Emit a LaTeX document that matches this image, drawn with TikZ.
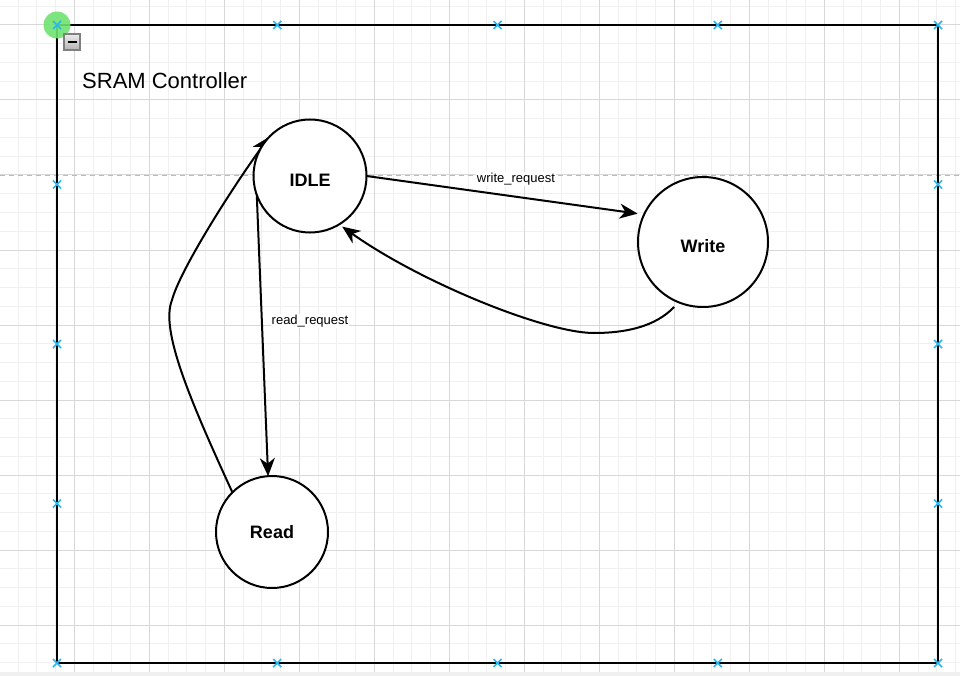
\documentclass[tikz,border=0pt]{standalone}
\usepackage{fontspec}
\setmainfont{Liberation Sans}
\usetikzlibrary{arrows.meta}
\pgfdeclarelayer{bg}
\pgfdeclarelayer{edges}
\pgfsetlayers{bg,edges,main}
\definecolor{handleblue}{HTML}{29B6F2}
\definecolor{gridminor}{HTML}{F0F0F0}
\definecolor{gridmajor}{HTML}{D8D8D8}
\definecolor{selgreen}{HTML}{6FE36F}
\definecolor{guidegray}{HTML}{BBBBBB}
\begin{document}
\begin{tikzpicture}[x=1pt,y=-1pt,
  fsmstate/.style={circle,draw=black,line width=2pt,fill=white,minimum size=#1,inner sep=0pt,outer sep=0pt,
    font=\fontsize{18}{20}\selectfont\bfseries,text depth=0pt},
  fsmedge/.style={line width=2pt,-{Stealth[length=18pt,width=15pt,inset=5.5pt]}},
  elabel/.style={font=\fontsize{13}{15}\selectfont,fill=white,inner sep=1pt,anchor=base},
  handle/.style={handleblue,line width=1.6pt},
]
\useasboundingbox (0,0) rectangle (960,676);
\begin{pgfonlayer}{bg}
  \fill[white] (0,0) rectangle (960,676);
  % minor grid
  \foreach \k in {0,...,51} {\draw[gridminor,line width=1pt] ({-0.7+18.75*\k},0) -- ({-0.7+18.75*\k},672);}
  \foreach \k in {0,...,35} {\draw[gridminor,line width=1pt] (0,{6.25+18.75*\k}) -- (960,{6.25+18.75*\k});}
  % major grid
  \foreach \k in {0,...,12} {\draw[gridmajor,line width=1pt] ({-0.7+75*\k},0) -- ({-0.7+75*\k},672);}
  \foreach \k in {0,...,8} {\draw[gridmajor,line width=1pt] (0,{25+75*\k}) -- (960,{25+75*\k});}
  \fill[gray!12] (0,672) rectangle (960,676);
  % guide line
  \draw[guidegray,line width=1pt,dash pattern=on 5pt off 4pt] (0,175.7) -- (960,175.7);
\end{pgfonlayer}

% container
\node[draw=black,line width=2pt,minimum width=881pt,minimum height=638pt,inner sep=0pt,outer sep=0pt] (ctrl) at (497.5,344) {};
\node[anchor=base west,inner sep=0pt,font=\fontsize{22}{26}\selectfont] (title) at (82,88.5) {SRAM Controller};

% states
\node[fsmstate=113pt,text height=21pt] (idle) at (310,176) {IDLE};
\node[fsmstate=130pt,text height=20pt] (write) at (703,242) {Write};
\node[fsmstate=112pt,text height=13pt] (read) at (272,532) {Read};

% connectors
\begin{pgfonlayer}{edges}
  \draw[fsmedge,shorten >=6.5pt] (idle.east) -- (write.155);
  \draw[fsmedge,shorten <=6.5pt,shorten >=3.8pt] (write.248) .. controls (655,327) and (625,333) .. (594,333)
        .. controls (545,333) and (420,282) .. (idle.-59);
  \draw[fsmedge] (idle.165) -- (read.94);
  \draw[fsmedge] (read.135) .. controls (190,400) and (160,330) .. (172,300)
        .. controls (180,270) and (232,188) .. (idle.136);
\end{pgfonlayer}
\node[elabel] (lw) at (516,182.5) {write\_request};
\node[elabel] (lr) at (310,324) {read\_request};

% selection decorations
\fill[selgreen,opacity=0.9] (57,25) circle (13.5pt);
\foreach \x in {57,277.25,497.5,717.75,938} {
  \foreach \y in {25,663} {
    \draw[handle] (\x-4,\y-4) -- (\x+4,\y+4) (\x-4,\y+4) -- (\x+4,\y-4);
  }
}
\foreach \y in {184.5,344,503.5} {
  \foreach \x in {57,938} {
    \draw[handle] (\x-4,\y-4) -- (\x+4,\y+4) (\x-4,\y+4) -- (\x+4,\y-4);
  }
}
% collapse icon
\shade[top color=gray!15,bottom color=gray!60] (64,34) rectangle (80,50);
\draw[gray,line width=1.2pt] (64,34) rectangle (80,50);
\draw[black,line width=2.6pt] (67.5,42) -- (76.5,42);
\end{tikzpicture}
\end{document}
